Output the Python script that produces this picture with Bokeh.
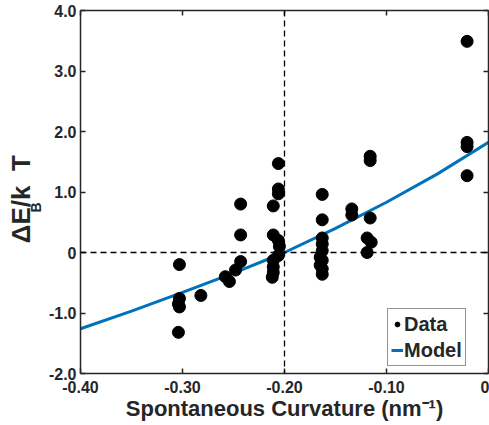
from bokeh.plotting import figure
from bokeh.models import (Span, LinearAxis, FixedTicker, Legend, LegendItem, Range1d)
from bokeh.embed import file_html
from bokeh.resources import INLINE

# ---- data ----
data_x = [-0.303, -0.303, -0.304, -0.303, -0.304,
          -0.282,
          -0.258, -0.254, -0.248, -0.243, -0.243, -0.243,
          -0.206, -0.206, -0.206, -0.211, -0.211, -0.206, -0.205, -0.206, -0.211, -0.211, -0.211, -0.212,
          -0.163, -0.163, -0.163, -0.163, -0.163, -0.165, -0.163, -0.165, -0.163, -0.163,
          -0.134, -0.134,
          -0.116, -0.116, -0.116, -0.119, -0.115, -0.119,
          -0.021, -0.021, -0.021, -0.021]
data_y = [-0.20, -0.76, -0.85, -0.90, -1.32,
          -0.71,
          -0.40, -0.48, -0.29, -0.15, 0.29, 0.80,
          1.47, 1.05, 0.97, 0.77, 0.29, 0.20, 0.10, -0.05, -0.13, -0.24, -0.33, -0.41,
          0.96, 0.54, 0.24, 0.14, 0.03, -0.08, -0.13, -0.21, -0.27, -0.36,
          0.72, 0.62,
          1.59, 1.52, 0.57, 0.24, 0.17, 0.00,
          3.49, 1.82, 1.75, 1.27]
model_x = [-0.40, -0.35, -0.30, -0.25, -0.20, -0.15, -0.10, -0.05, 0.00]
model_y = [-1.26, -0.97, -0.66, -0.34, 0.00, 0.40, 0.83, 1.30, 1.82]

x_ticks = [-0.4, -0.3, -0.2, -0.1, 0.0]
x_tick_labels = ["-0.40", "-0.30", "-0.20", "-0.10", "0"]
y_ticks = [-2, -1, 0, 1, 2, 3, 4]
y_tick_labels = ["-2.0", "-1.0", "0", "1.0", "2.0", "3.0", "4.0"]
x_label = "Spontaneous Curvature (nm\u207b\u00b9)"
y_label_main = "\u0394E/k"
y_label_sub = "B"
y_label_end = "T"

FONT = "Liberation Sans"
AX = "#262626"
NB = "\u00a0"

p = figure(width=489, height=425, output_backend="svg", toolbar_location=None,
           x_range=Range1d(-0.4, 0.0), y_range=Range1d(-2.0, 4.0),
           min_border_left=80, min_border_right=1, min_border_top=10, min_border_bottom=52)
p.outline_line_color = None
p.grid.visible = False
p.background_fill_color = "white"
p.border_fill_color = "white"

def style_axis(ax, ticks, labels, show_labels=True):
    ax.ticker = FixedTicker(ticks=ticks)
    ax.major_label_overrides = {t: (l if show_labels else "") for t, l in zip(ticks, labels)}
    ax.major_tick_in = 5
    ax.major_tick_out = 0
    ax.minor_tick_in = 0
    ax.minor_tick_out = 0
    ax.axis_line_color = AX
    ax.axis_line_width = 1.5
    ax.major_tick_line_color = AX
    ax.major_tick_line_width = 1.5
    ax.major_label_text_font = FONT
    ax.major_label_text_font_style = "bold"
    ax.major_label_text_font_size = "16px"
    ax.major_label_text_color = AX
    ax.major_label_standoff = 4 if show_labels else 0
    ax.axis_label_text_font = FONT
    ax.axis_label_text_font_style = "bold"
    ax.axis_label_text_color = AX

# bottom axis with title
xa = p.xaxis[0]
style_axis(xa, x_ticks, x_tick_labels)
xa.major_label_standoff = 7
xa.axis_label = x_label
xa.axis_label_text_font_size = "22px"
xa.axis_label_standoff = 0

# left axis: tick labels + the subscript "B" of the title
ya = p.yaxis[0]
style_axis(ya, y_ticks, y_tick_labels)
ya.axis_label = y_label_sub + NB * 8
ya.axis_label_text_font_size = "14px"
ya.axis_label_standoff = 2

# outer left axis holding the main part of the title
ya2 = LinearAxis(ticker=FixedTicker(ticks=[]))
ya2.axis_line_color = None
ya2.major_tick_line_color = None
ya2.minor_tick_line_color = None
ya2.major_label_text_font_size = "0px"
ya2.major_label_standoff = 0
ya2.axis_label = y_label_main + NB * 2 + y_label_end + NB * 2
ya2.axis_label_text_font = FONT
ya2.axis_label_text_font_style = "bold"
ya2.axis_label_text_font_size = "26px"
ya2.axis_label_text_color = AX
ya2.axis_label_standoff = -11
p.add_layout(ya2, "left")

top = LinearAxis()
style_axis(top, x_ticks, x_tick_labels, show_labels=False)
p.add_layout(top, "above")
right = LinearAxis()
style_axis(right, y_ticks, y_tick_labels, show_labels=False)
p.add_layout(right, "right")

# reference dashed lines
p.add_layout(Span(location=-0.2, dimension="height", line_color="black",
                  line_dash="6 4", line_width=1.3))
p.add_layout(Span(location=0.0, dimension="width", line_color="black",
                  line_dash="6 4", line_width=1.3))

r_model = p.line(model_x, model_y, line_color="#0072BD", line_width=3)
r_data = p.scatter(data_x, data_y, size=12, fill_color="black", line_color="black")

legend = Legend(items=[LegendItem(label="Data", renderers=[r_data]),
                       LegendItem(label="Model", renderers=[r_model])],
                location=(307, 7))
legend.label_text_font = FONT
legend.label_text_font_style = "bold"
legend.label_text_font_size = "20px"
legend.label_text_color = AX
legend.glyph_width = 12
legend.glyph_height = 24
legend.label_height = 24
legend.label_standoff = 1
legend.spacing = 2
legend.padding = 3
legend.margin = 0
legend.border_line_color = AX
legend.border_line_width = 1.5
p.add_layout(legend, "center")

open("out.html", "w").write(file_html(p, INLINE))
